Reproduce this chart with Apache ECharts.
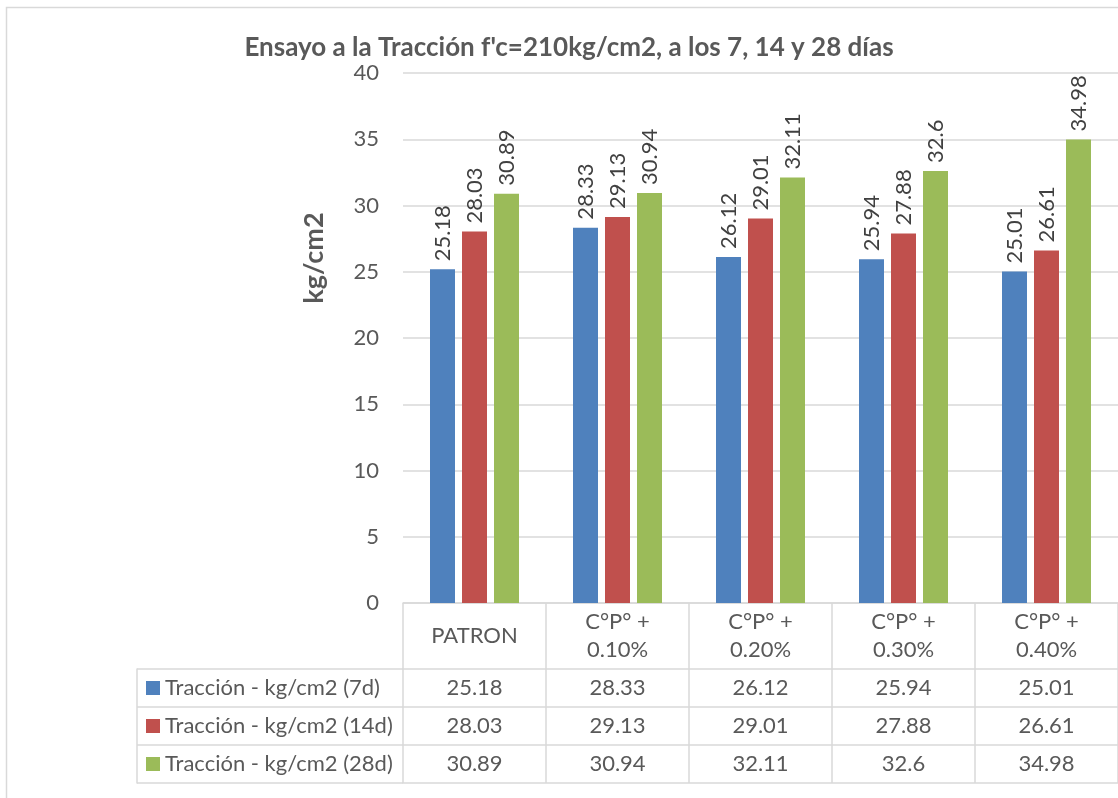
<!DOCTYPE html>
<html>
<head>
<meta charset="utf-8">
<script src="https://cdn.jsdelivr.net/npm/echarts@6/dist/echarts.min.js"></script>
<style>
  html, body { margin: 0; padding: 0; background: #ffffff; }
  #chart { width: 1118px; height: 798px; }
</style>
</head>
<body>
<div id="chart"></div>
<script>
// Categories and series values
const categories = ['PATRON', 'C°P° +\n0.10%', 'C°P° +\n0.20%', 'C°P° +\n0.30%', 'C°P° +\n0.40%'];
const seriesNames = ['Tracción - kg/cm2 (7d)', 'Tracción - kg/cm2 (14d)', 'Tracción - kg/cm2 (28d)'];
const values7d = [25.18, 28.33, 26.12, 25.94, 25.01];
const values14d = [28.03, 29.13, 29.01, 27.88, 26.61];
const values28d = [30.89, 30.94, 32.11, 32.6, 34.98];
const yTicks = [0, 5, 10, 15, 20, 25, 30, 35, 40];

const seriesValues = [values7d, values14d, values28d];
const colors = ['#4F81BD', '#C0504D', '#9BBB59'];
const FONT = 'Lato, "Open Sans", sans-serif';
const TEXT = '#595959';
const LINE = '#D9D9D9';
const FS = 22;

const chart = echarts.init(document.getElementById('chart'), null, { renderer: 'canvas' });

// Data table under the plot: one category axis per row of values
const headerHeight = 66;
const rowHeight = 38;
const rowAxes = seriesValues.map((vals, i) => ({
  type: 'category',
  gridIndex: 0,
  position: 'bottom',
  offset: headerHeight + i * rowHeight,
  data: vals.map(v => String(v)),
  axisLine: { show: true, lineStyle: { color: LINE, width: 1.5 } },
  axisTick: { show: true, length: rowHeight, interval: 0, lineStyle: { color: LINE, width: 1.5 } },
  axisLabel: {
    interval: 0, margin: rowHeight / 2, verticalAlign: 'middle',
    color: TEXT, fontFamily: FONT, fontSize: FS
  },
  splitLine: { show: false }
}));
// closing line of the table
rowAxes.push({
  type: 'category',
  gridIndex: 0,
  position: 'bottom',
  offset: headerHeight + seriesValues.length * rowHeight,
  data: categories,
  axisLine: { show: true, lineStyle: { color: LINE, width: 1.5 } },
  axisTick: { show: false },
  axisLabel: { show: false }
});

// legend keys drawn as rich-text squares in the table's first column
const keyRich = { t: { fontFamily: FONT, fontSize: FS, color: TEXT, padding: [0, 0, 0, 5] } };
colors.forEach((c, i) => {
  keyRich['k' + i] = { backgroundColor: c, width: 14, height: 14 };
});

const option = {
  backgroundColor: '#ffffff',
  animation: false,
  color: colors,
  title: {
    text: "Ensayo a la Tracción f'c=210kg/cm2, a los 7, 14 y 28 días",
    left: 564,
    top: 30,
    textAlign: 'center',
    textStyle: { fontFamily: FONT, fontSize: 26, fontWeight: 'bold', color: TEXT }
  },
  grid: [
    { left: 403, right: -1, top: 73, bottom: 195, containLabel: false },
    // first column of the data table
    { left: 137, width: 266, top: 669, height: rowHeight * 3, containLabel: false }
  ],
  xAxis: [
    {
      type: 'category',
      gridIndex: 0,
      data: categories,
      axisLine: { show: true, lineStyle: { color: LINE, width: 1.5 } },
      axisTick: { show: true, length: headerHeight, interval: 0, lineStyle: { color: LINE, width: 1.5 } },
      axisLabel: {
        interval: 0, margin: headerHeight / 2, verticalAlign: 'middle',
        color: TEXT, fontFamily: FONT, fontSize: FS, lineHeight: 28
      }
    },
    ...rowAxes,
    { type: 'value', gridIndex: 1, show: false }
  ],
  yAxis: [
    {
      type: 'value',
      gridIndex: 0,
      min: yTicks[0],
      max: yTicks[yTicks.length - 1],
      interval: yTicks[1] - yTicks[0],
      axisLine: { show: false },
      axisTick: { show: false },
      axisLabel: { color: TEXT, fontFamily: FONT, fontSize: FS, margin: 24 },
      splitLine: { lineStyle: { color: LINE, width: 1.5 } }
    },
    {
      type: 'category',
      gridIndex: 1,
      inverse: true,
      data: seriesNames,
      axisLine: { show: true, lineStyle: { color: LINE, width: 1.5 } },
      axisTick: { show: false },
      axisLabel: {
        inside: true,
        margin: 9,
        interval: 0,
        verticalAlign: 'middle',
        formatter: (value, index) => '{k' + index + '|}{t|' + value + '}',
        rich: keyRich
      },
      splitLine: { show: true, interval: 0, lineStyle: { color: LINE, width: 1.5 } }
    }
  ],
  series: seriesValues.map((vals, i) => ({
    name: seriesNames[i],
    type: 'bar',
    xAxisIndex: 0,
    yAxisIndex: 0,
    data: vals,
    barWidth: 25,
    barGap: '28%',
    itemStyle: { color: colors[i] },
    label: {
      show: true,
      position: 'top',
      rotate: 90,
      align: 'left',
      verticalAlign: 'middle',
      distance: 8,
      color: '#404040',
      fontFamily: FONT,
      fontSize: FS
    }
  })),
  graphic: [
    {
      type: 'text',
      x: 314,
      y: 258,
      rotation: Math.PI / 2,
      style: {
        text: 'kg/cm2',
        fontFamily: FONT,
        fontSize: 27,
        fontWeight: 'bold',
        fill: TEXT,
        align: 'center',
        verticalAlign: 'middle'
      }
    },
    {
      type: 'rect',
      shape: { x: 6.5, y: 7.5, width: 1200, height: 900 },
      style: { fill: 'none', stroke: LINE, lineWidth: 1.5 },
      silent: true,
      z: -1
    }
  ]
};

chart.setOption(option);
</script>
</body>
</html>
